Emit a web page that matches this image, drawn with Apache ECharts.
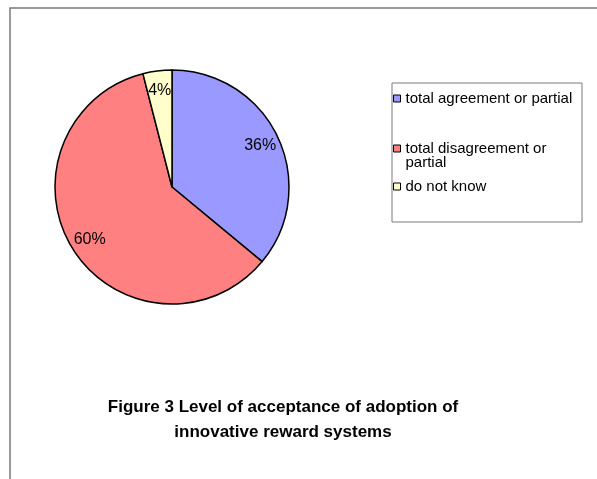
<!DOCTYPE html>
<html>
<head>
<meta charset="utf-8">
<script src="https://cdn.jsdelivr.net/npm/echarts@6/dist/echarts.min.js"></script>
<style>
  html, body { margin: 0; padding: 0; background: #fff; }
  #chart { width: 597px; height: 479px; }
</style>
</head>
<body>
<div id="chart"></div>
<script>
// 数据
const categories = ['total agreement or partial', 'total disagreement or partial', 'do not know'];
const shares = [36, 60, 4];
const sliceColors = ['#9999FF', '#FF8080', '#FFFFCC'];
const titleText = 'Figure 3 Level of acceptance of adoption of\ninnovative reward systems';

const chart = echarts.init(document.getElementById('chart'));
const font = 'Arial, "Liberation Sans", sans-serif';

const pieData = categories.map((name, i) => ({
    name: name,
    value: shares[i],
    itemStyle: { color: sliceColors[i] }
}));

// 每个图例单独放，方便对齐
const legendItem = (name, top) => ({
    left: 393,
    top: top,
    orient: 'vertical',
    selectedMode: false,
    padding: 0,
    itemWidth: 7,
    itemHeight: 7,
    icon: 'rect',
    itemStyle: { borderColor: '#000', borderWidth: 1 },
    data: [name],
    formatter: function (n) {
        // 第二项换行，前面加空行让第一行和色块对齐
        return n === 'total disagreement or partial' ? '\ntotal disagreement or\npartial' : n;
    },
    textStyle: { fontFamily: font, fontSize: 15, lineHeight: 14, color: '#000' }
});

const option = {
    backgroundColor: '#fff',
    animation: false,
    title: {
        text: titleText,
        left: 278,
        top: 390,
        textAlign: 'center',
        textStyle: {
            fontFamily: font,
            fontSize: 17,
            fontWeight: 'bold',
            lineHeight: 25,
            color: '#000'
        }
    },
    graphic: [
        {
            type: 'rect',
            shape: { x: 10, y: 8, width: 700, height: 600 },
            style: { fill: 'none', stroke: '#7a7a7a', lineWidth: 1.5 },
            silent: true
        },
        {
            type: 'rect',
            shape: { x: 392, y: 83, width: 190, height: 139 },
            style: { fill: 'none', stroke: '#7a7a7a', lineWidth: 1 },
            silent: true
        }
    ],
    legend: [
        legendItem(categories[0], 91),
        legendItem(categories[1], 127),
        legendItem(categories[2], 179)
    ],
    series: [
        {
            type: 'pie',
            center: [172, 187],
            radius: [0, 117],
            startAngle: 90,
            clockwise: true,
            data: pieData,
            label: { show: false },
            labelLine: { show: false },
            itemStyle: { borderColor: '#000', borderWidth: 1.5 },
            emphasis: { disabled: true }
        },
        {
            // 透明环，只用来放百分比标签
            type: 'pie',
            center: [172, 187],
            radius: [72, 117],
            startAngle: 90,
            clockwise: true,
            silent: true,
            data: pieData.map(d => ({ name: d.name, value: d.value, itemStyle: { color: 'rgba(0,0,0,0)' } })),
            label: {
                show: true,
                position: 'inside',
                formatter: '{c}%',
                fontFamily: font,
                fontSize: 16,
                color: '#000'
            },
            labelLine: { show: false },
            emphasis: { disabled: true }
        }
    ]
};

chart.setOption(option);
</script>
</body>
</html>
